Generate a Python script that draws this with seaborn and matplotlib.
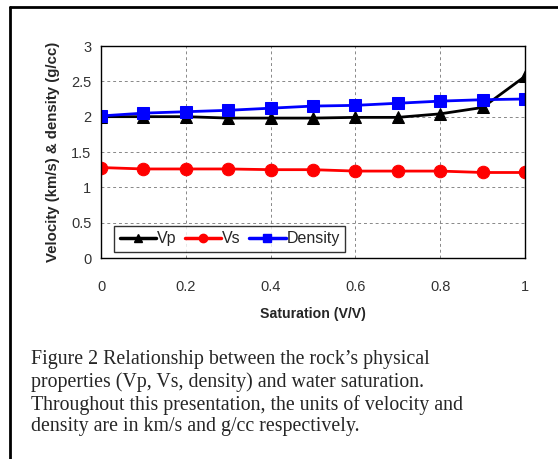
import matplotlib
matplotlib.use("Agg")
import matplotlib.pyplot as plt
import seaborn as sns
import pandas as pd
from matplotlib.lines import Line2D

saturation = [0.0, 0.1, 0.2, 0.3, 0.4, 0.5, 0.6, 0.7, 0.8, 0.9, 1.0]
vp = [2.00, 2.00, 2.00, 1.98, 1.98, 1.98, 1.99, 1.99, 2.04, 2.13, 2.57]
vs = [1.28, 1.26, 1.26, 1.26, 1.25, 1.25, 1.23, 1.23, 1.23, 1.21, 1.21]
density = [2.01, 2.05, 2.07, 2.09, 2.12, 2.15, 2.16, 2.19, 2.22, 2.24, 2.25]
series_names = ["Vp", "Vs", "Density"]
x_ticks = [0, 0.2, 0.4, 0.6, 0.8, 1]
x_tick_labels = ["0", "0.2", "0.4", "0.6", "0.8", "1"]
y_ticks = [0, 0.5, 1, 1.5, 2, 2.5, 3]
y_tick_labels = ["0", "0.5", "1", "1.5", "2", "2.5", "3"]
caption = ("Figure 2 Relationship between the rock\u2019s physical\n"
           "properties (Vp, Vs, density) and water saturation.\n"
           "Throughout this presentation, the units of velocity and\n"
           "density are in km/s and g/cc respectively.")

sns.set_style("white")
plt.rcParams["font.family"] = ["Liberation Sans", "DejaVu Sans"]

fig = plt.figure(figsize=(5.58, 4.59), dpi=100)
ax = fig.add_axes([101/558, 1 - 258/459, (525-101)/558, (258-46)/459])

df = pd.DataFrame({
    "Saturation": saturation * 3,
    "Value": vp + vs + density,
    "Series": ["Vp"] * len(vp) + ["Vs"] * len(vs) + ["Density"] * len(density),
})
colors = {"Vp": "black", "Vs": "#ff0000", "Density": "#0000ff"}
markers = {"Vp": "^", "Vs": "o", "Density": "s"}
sizes = {"Vp": 8, "Vs": 9, "Density": 8}
for name in series_names:
    sub = df[df["Series"] == name]
    sns.lineplot(data=sub, x="Saturation", y="Value", ax=ax, color=colors[name],
                 marker=markers[name], markersize=sizes[name], markeredgecolor=colors[name],
                 linewidth=2, label=name, legend=False)

ax.set_xlim(0, 1)
ax.set_ylim(0, 3)
ax.set_xticks(x_ticks)
ax.set_xticklabels(x_tick_labels)
ax.set_yticks(y_ticks)
ax.set_yticklabels(y_tick_labels)
ax.grid(True, color="#888888", linestyle=(0, (3, 3)), linewidth=0.7)
for s in ax.spines.values():
    s.set_color("black")
    s.set_linewidth(1)
ax.tick_params(axis="x", direction="out", length=4, width=1, pad=12, labelsize=10.5, colors="black", labelcolor="#333333")
ax.tick_params(axis="y", direction="out", length=4, width=1, pad=3, labelsize=10.5, colors="black", labelcolor="#333333")
ax.set_xlabel("Saturation (V/V)", fontsize=10.2, fontweight="bold", labelpad=9)
ax.set_ylabel("Velocity (km/s) & density (g/cc)", fontsize=10.8, fontweight="bold", labelpad=8)

handles = [Line2D([0], [0], color=colors[n], marker=markers[n], markersize=6, linewidth=2.5) for n in series_names]
leg = ax.legend(handles, series_names, loc="lower left", bbox_to_anchor=(0.031, 0.028), ncol=3,
                frameon=True, fancybox=False, edgecolor="black", fontsize=11.5,
                handlelength=2.3, handletextpad=0.05, columnspacing=0.5, borderpad=0.35,
                borderaxespad=0)
leg.get_frame().set_linewidth(1)

fig.text(31/558, 1 - 350/459, caption, fontsize=14.3, family="Liberation Serif",
         va="top", ha="left", linespacing=1.2)

# outer frame
fig.add_artist(Line2D([10/558, 10/558], [0, 1 - 7/459], color="black", linewidth=2, transform=fig.transFigure))
fig.add_artist(Line2D([10/558, 1], [1 - 7/459, 1 - 7/459], color="black", linewidth=2, transform=fig.transFigure))

fig.savefig("out.png", dpi=100)
